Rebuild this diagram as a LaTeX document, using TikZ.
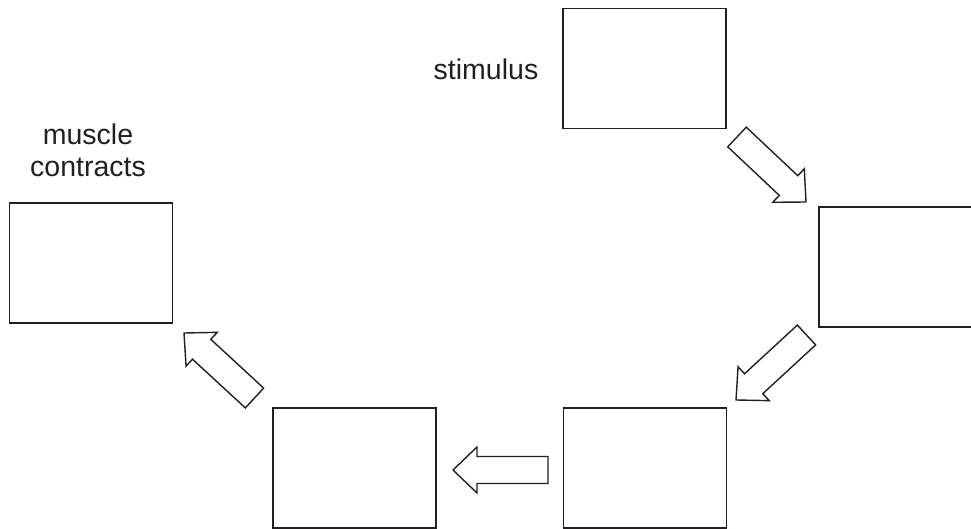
\documentclass[tikz,border=0pt]{standalone}
\usepackage{fontspec}
\setmainfont{Liberation Sans}
\usetikzlibrary{calc}
\definecolor{ink}{HTML}{231F20}
\tikzset{
  answerbox/.style={draw=ink, line width=1.6pt, minimum width=163pt, minimum height=120pt, inner sep=0pt},
  label text/.style={text=ink, font=\fontsize{28.5}{32}\selectfont, inner sep=0pt},
  blockarrow/.style={draw=ink, line width=1.4pt, line join=miter, fill=white}
}
\newcommand{\blockarrowpath}[2]{%
  \coordinate (neck) at ($(#2)!24pt!(#1)$);
  \draw[blockarrow] ($(#1)!13.5pt!90:(#2)$) -- ($(neck)!13.5pt!90:(#2)$) -- ($(neck)!23pt!90:(#2)$) -- (#2)
     -- ($(neck)!23pt!-90:(#2)$) -- ($(neck)!13.5pt!-90:(#2)$) -- ($(#1)!13.5pt!-90:(#2)$) -- cycle;}
\begin{document}
\begin{tikzpicture}[x=1pt,y=-1pt]
\useasboundingbox (0,0) rectangle (971,529);
\begin{scope}
\clip (0,0) rectangle (971,529);
\node[answerbox] (stim) at (644.5,68.5) {};
\node[answerbox] (recep) at (900.5,267) {};
\node[answerbox] (br) at (645,468) {};
\node[answerbox] (bl) at (354.5,468) {};
\node[answerbox] (musc) at (91,263) {};
\end{scope}
\node[label text, anchor=base] (stimlabel) at (486,80) {stimulus};
\node[label text, anchor=base, align=center] (musclabel) at (88,177) {muscle\\contracts};
\coordinate (a1t) at (737,137);   \coordinate (a1h) at (806,202);
\coordinate (a2t) at (806.5,335); \coordinate (a2h) at (736,400);
\coordinate (a3t) at (548,470);   \coordinate (a3h) at (453,470);
\coordinate (a4t) at (254.5,398); \coordinate (a4h) at (184,333);
\blockarrowpath{a1t}{a1h}
\blockarrowpath{a2t}{a2h}
\blockarrowpath{a3t}{a3h}
\blockarrowpath{a4t}{a4h}
\end{tikzpicture}
\end{document}
